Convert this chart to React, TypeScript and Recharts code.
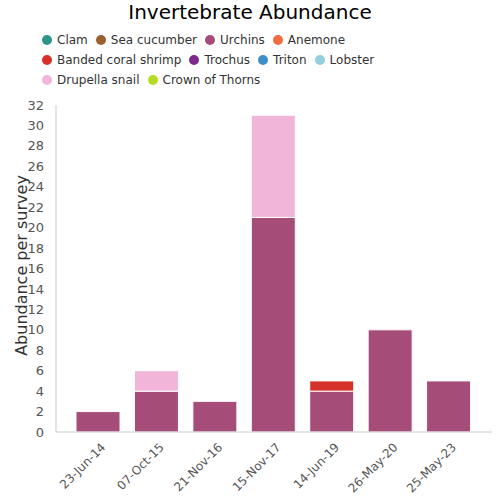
import { BarChart, Bar, XAxis, YAxis } from 'recharts'

const dates = ['23-Jun-14', '07-Oct-15', '21-Nov-16', '15-Nov-17', '14-Jun-19', '26-May-20', '25-May-23']
const species = [
  'Clam',
  'Sea cucumber',
  'Urchins',
  'Anemone',
  'Banded coral shrimp',
  'Trochus',
  'Triton',
  'Lobster',
  'Drupella snail',
  'Crown of Thorns',
]
const colors = ['#2e9688', '#9a6030', '#a54d78', '#f26b43', '#d6302a', '#7b2a8a', '#3d8fc6', '#94cfe0', '#f0b5d9', '#b5db22']
const clam = [0, 0, 0, 0, 0, 0, 0]
const seaCucumber = [0, 0, 0, 0, 0, 0, 0]
const urchins = [2, 4, 3, 21, 4, 10, 5]
const anemone = [0, 0, 0, 0, 0, 0, 0]
const shrimp = [0, 0, 0, 0, 1, 0, 0]
const trochus = [0, 0, 0, 0, 0, 0, 0]
const triton = [0, 0, 0, 0, 0, 0, 0]
const lobster = [0, 0, 0, 0, 0, 0, 0]
const drupella = [0, 2, 0, 10, 0, 0, 0]
const cot = [0, 0, 0, 0, 0, 0, 0]
const yTicks = [0, 2, 4, 6, 8, 10, 12, 14, 16, 18, 20, 22, 24, 26, 28, 30, 32]

const seriesValues = [clam, seaCucumber, urchins, anemone, shrimp, trochus, triton, lobster, drupella, cot]

const data = dates.map((d, i) => {
  const row: Record<string, string | number> = { date: d }
  species.forEach((s, k) => {
    row[s] = seriesValues[k][i]
  })
  return row
})

const legendRows = [species.slice(0, 4), species.slice(4, 8), species.slice(8)]

const font = '"DejaVu Sans", Verdana, sans-serif'

export default function App() {
  return (
    <div style={{ position: 'absolute', left: 0, top: 0, width: 500, height: 500, fontFamily: font, background: '#fff' }}>
      <div style={{ position: 'absolute', top: 0, width: 500, textAlign: 'center', fontSize: 20, color: '#000' }}>
        Invertebrate Abundance
      </div>
      <div style={{ position: 'absolute', left: 42, top: 30, fontSize: 12, color: '#333' }}>
        {legendRows.map((row, r) => (
          <div key={r} style={{ display: 'flex', height: 20, alignItems: 'center' }}>
            {row.map((s) => (
              <span key={s} style={{ display: 'flex', alignItems: 'center', marginRight: 8 }}>
                <span
                  style={{
                    width: 10,
                    height: 10,
                    borderRadius: '50%',
                    background: colors[species.indexOf(s)],
                    marginRight: 5,
                    display: 'inline-block',
                  }}
                />
                {s}
              </span>
            ))}
          </div>
        ))}
      </div>
      <BarChart
        width={500}
        height={500}
        data={data}
        margin={{ top: 105, right: 8, bottom: 0, left: 0 }}
        barCategoryGap="12%"
      >
        <XAxis
          dataKey="date"
          height={68}
          padding={{ left: 13, right: 14 }}
          stroke="#ccc"
          tickLine={false}
          interval={0}
          angle={-45}
          textAnchor="end"
          tick={{ fill: '#555', fontSize: 12, fontFamily: font, dx: 2, dy: 2 }}
        />
        <YAxis
          width={56}
          domain={[0, 32]}
          ticks={yTicks}
          interval={0}
          stroke="#ccc"
          tickLine={false}
          tickMargin={6}
          tick={{ fill: '#555', fontSize: 13, fontFamily: font }}
          label={{
            value: 'Abundance per survey',
            angle: -90,
            position: 'insideLeft',
            offset: 21,
            dy: -3,
            style: { textAnchor: 'middle', fill: '#333', fontSize: 16, fontFamily: font },
          }}
        />
        {species.map((s, k) => (
          <Bar
            key={s}
            dataKey={s}
            stackId="a"
            fill={colors[k]}
            stroke="#fff"
            strokeWidth={1}
            isAnimationActive={false}
          />
        ))}
      </BarChart>
    </div>
  )
}
